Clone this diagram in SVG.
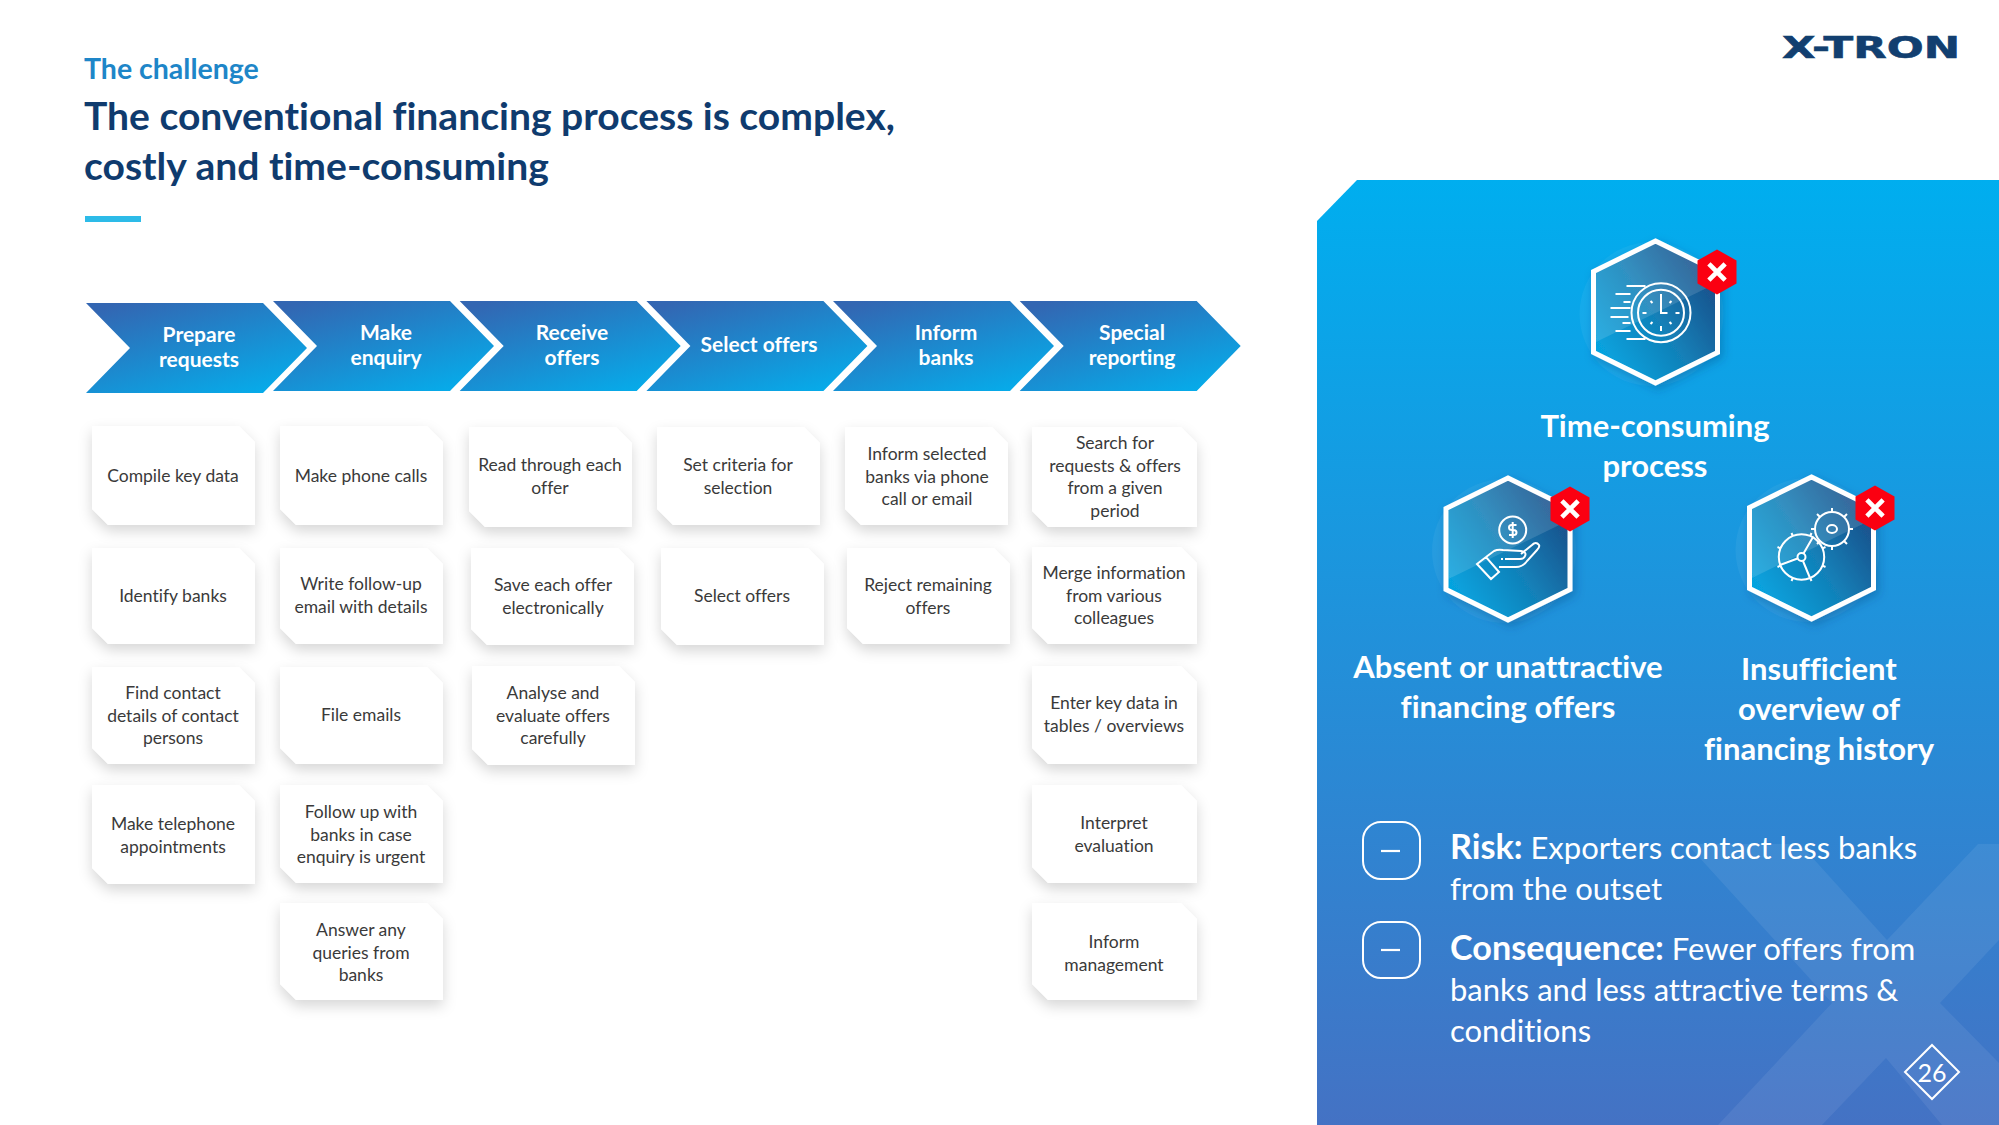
<svg xmlns="http://www.w3.org/2000/svg" width="1999" height="1125" viewBox="0 0 1999 1125">
<defs>
<linearGradient id="chev" x1="0.15" y1="0" x2="0.85" y2="1"><stop offset="0" stop-color="#3366b2"/><stop offset="1" stop-color="#05adeb"/></linearGradient>
<linearGradient id="panel" x1="0" y1="0" x2="0" y2="1"><stop offset="0" stop-color="#00aeef"/><stop offset="1" stop-color="#4472c4"/></linearGradient>
<linearGradient id="hexg" x1="0.1" y1="0.9" x2="0.9" y2="0.3"><stop offset="0" stop-color="#05a6e2"/><stop offset="0.55" stop-color="#1280b8"/><stop offset="1" stop-color="#1a5690"/></linearGradient>
<filter id="sh" x="-20%" y="-20%" width="140%" height="150%"><feDropShadow dx="0" dy="6" stdDeviation="7" flood-color="#000" flood-opacity="0.16"/></filter>
<filter id="hs" x="-20%" y="-20%" width="140%" height="140%"><feDropShadow dx="3" dy="4" stdDeviation="5" flood-color="#0a3a70" flood-opacity="0.3"/></filter>
<path id="hex" d="M0,-71 L62,-40.500 L62,40.500 L0,71 L-62,40.500 L-62,-40.500Z"/>
<path id="badge" d="M0,-22.500 L19.500,-11.500 L19.500,11.500 L0,22.500 L-19.500,11.500 L-19.500,-11.500Z"/>
<g id="bad"><use href="#badge" fill="#fb0011"/><path d="M-6.500,-6.500L6.500,6.500M6.500,-6.500L-6.500,6.500" stroke="#fff" stroke-width="4.600" stroke-linecap="square" fill="none"/></g>
<g id="hx"><circle cx="-4" cy="2" r="72" fill="#fff" opacity="0.05"/><use href="#hex" fill="url(#hexg)" stroke="#fff" stroke-width="5" filter="url(#hs)"/><path d="M0,-68.500 L59.500,-39 L59.500,-28 L-59.500,30 L-59.500,-39Z" fill="#fff" opacity="0.13"/></g>
</defs>
<style>
text{font-family:Lato,"Liberation Sans",sans-serif;font-variant-ligatures:none}
.c{font-size:17.5px;fill:#3a3a3a;text-anchor:middle}
.h{font-size:21px;font-weight:700;fill:#fff;text-anchor:middle}
.p{font-size:31px;font-weight:700;fill:#fff;text-anchor:middle}
.b{font-size:31px;fill:#fff}
.bb{font-size:34.200px;font-weight:700}
.card{fill:#fff;filter:url(#sh)}
.ic{fill:none;stroke:#fff;stroke-width:2}
.t{font-size:39.050px;font-weight:700;fill:#0f3b6e}
.rb{fill:none;stroke:#fff;stroke-width:2}
</style>
<rect width="1999" height="1125" fill="#fff"/>
<g id="header">
<text x="84" y="79" font-size="28.500" font-weight="700" fill="#1e86c8">The challenge</text>
<text class="t" x="84" y="130">The conventional financing process is complex,</text>
<text class="t" x="84" y="180">costly and time-consuming</text>
<rect x="85" y="216" width="56" height="6" fill="#2dbbe8"/>
</g>
<g id="logo"><text x="1782" y="58" font-size="30" font-weight="700" fill="#123f70" stroke="#123f70" stroke-width="0.600" textLength="178" lengthAdjust="spacingAndGlyphs" style="font-family:'DejaVu Sans',sans-serif">X-TRON</text></g>
<g id="panel-bg">
<path d="M1317,221 L1357,180 L1999,180 L1999,1125 L1317,1125Z" fill="url(#panel)"/>
<path d="M1687,844 H1800 L1887,940 L1978,844 H1999 V940 L1940,1003 L1999,1063 V1125 H1942 L1886,1058 L1822,1125 H1718 L1832,1003Z" fill="#fff" opacity="0.07"/>
</g>
<g id="chevrons">
<g id="ch1"><path d="M86,303 H263 L307,348 L263,393 H86 L130,348Z" fill="url(#chev)"/><text class="h"><tspan x="199" y="342">Prepare</tspan><tspan x="199" y="367">requests</tspan></text></g>
<g id="ch2"><path d="M273,301 H450 L494,346 L450,391 H273 L317,346Z" fill="url(#chev)"/><text class="h"><tspan x="386" y="340">Make</tspan><tspan x="386" y="365">enquiry</tspan></text></g>
<g id="ch3"><path d="M459.700,301 H636.700 L680.700,346 L636.700,391 H459.700 L503.700,346Z" fill="url(#chev)"/><text class="h"><tspan x="572" y="340">Receive</tspan><tspan x="572" y="365">offers</tspan></text></g>
<g id="ch4"><path d="M646.400,301 H823.400 L867.400,346 L823.400,391 H646.400 L690.400,346Z" fill="url(#chev)"/><text class="h" x="759" y="352">Select offers</text></g>
<g id="ch5"><path d="M833,301 H1010 L1054,346 L1010,391 H833 L877,346Z" fill="url(#chev)"/><text class="h"><tspan x="946" y="340">Inform</tspan><tspan x="946" y="365">banks</tspan></text></g>
<g id="ch6"><path d="M1019.700,301 H1196.700 L1240.700,346 L1196.700,391 H1019.700 L1063.700,346Z" fill="url(#chev)"/><text class="h"><tspan x="1132" y="340">Special</tspan><tspan x="1132" y="365">reporting</tspan></text></g>
</g>
<g id="cards">
<g id="c11"><path class="card" d="M92,426 H239 L255,442 V525 H108 L92,509Z"/><text class="c" x="173" y="482">Compile key data</text></g>
<g id="c12"><path class="card" d="M92,548 H239 L255,564 V644 H108 L92,628Z"/><text class="c" x="173" y="602">Identify banks</text></g>
<g id="c13"><path class="card" d="M92,667 H239 L255,683 V764 H108 L92,748Z"/><text class="c"><tspan x="173" y="699">Find contact</tspan><tspan x="173" y="721.500">details of contact</tspan><tspan x="173" y="744">persons</tspan></text></g>
<g id="c14"><path class="card" d="M92,785 H239 L255,801 V884 H108 L92,868Z"/><text class="c"><tspan x="173" y="830">Make telephone</tspan><tspan x="173" y="852.500">appointments</tspan></text></g>
<g id="c21"><path class="card" d="M280,426 H427 L443,442 V525 H296 L280,509Z"/><text class="c" x="361" y="482">Make phone calls</text></g>
<g id="c22"><path class="card" d="M280,548 H427 L443,564 V644 H296 L280,628Z"/><text class="c"><tspan x="361" y="590">Write follow-up</tspan><tspan x="361" y="612.500">email with details</tspan></text></g>
<g id="c23"><path class="card" d="M280,667 H427 L443,683 V764 H296 L280,748Z"/><text class="c" x="361" y="721">File emails</text></g>
<g id="c24"><path class="card" d="M280,785 H427 L443,801 V883 H296 L280,867Z"/><text class="c"><tspan x="361" y="818">Follow up with</tspan><tspan x="361" y="840.500">banks in case</tspan><tspan x="361" y="863">enquiry is urgent</tspan></text></g>
<g id="c25"><path class="card" d="M280,903 H427 L443,919 V1000 H296 L280,984Z"/><text class="c"><tspan x="361" y="936">Answer any</tspan><tspan x="361" y="958.500">queries from</tspan><tspan x="361" y="981">banks</tspan></text></g>
<g id="c31"><path class="card" d="M469,427 H616 L632,443 V527 H485 L469,511Z"/><text class="c"><tspan x="550" y="471">Read through each</tspan><tspan x="550" y="493.500">offer</tspan></text></g>
<g id="c32"><path class="card" d="M471,548 H618 L634,564 V645 H487 L471,629Z"/><text class="c"><tspan x="553" y="591">Save each offer</tspan><tspan x="553" y="613.500">electronically</tspan></text></g>
<g id="c33"><path class="card" d="M472,666 H619 L635,682 V765 H488 L472,749Z"/><text class="c"><tspan x="553" y="699">Analyse and</tspan><tspan x="553" y="721.500">evaluate offers</tspan><tspan x="553" y="744">carefully</tspan></text></g>
<g id="c41"><path class="card" d="M657,427 H804 L820,443 V525 H673 L657,509Z"/><text class="c"><tspan x="738" y="471">Set criteria for</tspan><tspan x="738" y="493.500">selection</tspan></text></g>
<g id="c42"><path class="card" d="M661,548 H808 L824,564 V645 H677 L661,629Z"/><text class="c" x="742" y="602">Select offers</text></g>
<g id="c51"><path class="card" d="M845,427 H992 L1008,443 V525 H861 L845,509Z"/><text class="c"><tspan x="927" y="460">Inform selected</tspan><tspan x="927" y="482.500">banks via phone</tspan><tspan x="927" y="505">call or email</tspan></text></g>
<g id="c52"><path class="card" d="M847,548 H994 L1010,564 V644 H863 L847,628Z"/><text class="c"><tspan x="928" y="591">Reject remaining</tspan><tspan x="928" y="613.500">offers</tspan></text></g>
<g id="c61"><path class="card" d="M1032,427 H1181 L1197,443 V527 H1048 L1032,511Z"/><text class="c"><tspan x="1115" y="449">Search for</tspan><tspan x="1115" y="471.500">requests &amp; offers</tspan><tspan x="1115" y="494">from a given</tspan><tspan x="1115" y="516.500">period</tspan></text></g>
<g id="c62"><path class="card" d="M1032,547 H1181 L1197,563 V644 H1048 L1032,628Z"/><text class="c"><tspan x="1114" y="579">Merge information</tspan><tspan x="1114" y="601.500">from various</tspan><tspan x="1114" y="624">colleagues</tspan></text></g>
<g id="c63"><path class="card" d="M1032,666 H1181 L1197,682 V764 H1048 L1032,748Z"/><text class="c"><tspan x="1114" y="709">Enter key data in</tspan><tspan x="1114" y="731.500">tables / overviews</tspan></text></g>
<g id="c64"><path class="card" d="M1032,785 H1181 L1197,801 V883 H1048 L1032,867Z"/><text class="c"><tspan x="1114" y="829">Interpret</tspan><tspan x="1114" y="851.500">evaluation</tspan></text></g>
<g id="c65"><path class="card" d="M1032,903 H1181 L1197,919 V1000 H1048 L1032,984Z"/><text class="c"><tspan x="1114" y="948">Inform</tspan><tspan x="1114" y="970.500">management</tspan></text></g>
</g>
<g id="node-time">
<g transform="translate(1655.500,312)"><use href="#hx"/>
<g class="ic"><circle cx="5.500" cy="0.700" r="29.500"/><circle cx="5.500" cy="0.700" r="23"/><path d="M5.500,-18V1H12M5.500,14V19M-13,1H-9M24,1H20M-5,-11L-3,-9M16,-11L14,-9M-5,12L-3,10M16,12L14,10"/><path d="M-29,-26H-10M-40,-18H-25M-32,-10H-25M-45,-4H-25M-45,5H-27M-33,11H-25M-40,19H-25M-29,27H-10"/></g></g>
<use href="#bad" x="1717" y="272"/>
<text class="p"><tspan x="1655" y="437">Time-consuming</tspan><tspan x="1655" y="477">process</tspan></text>
</g>
<g id="node-offers">
<g transform="translate(1508,549)"><use href="#hx"/>
<g class="ic"><circle cx="4.700" cy="-19" r="13.500"/><path d="M8.500,-24H3.500Q1,-24 1,-21.500T4,-19H5.500Q8.500,-19 8.500,-16.500T5.500,-14H1M4.700,-27V-11"/><path d="M-22,8 L-14,2 Q-10,0 -5,1 L13,2 Q19,3 17,7 Q16,10 12,10 H-3 M13,5 L24,-4 Q28,-8 31,-4 Q32,-2 29,1 L19,12 Q15,18 8,18 H-9 M-31,15 L-22,8 L-9,23 L-17,30Z M-7,10H-5"/></g></g>
<use href="#bad" x="1570" y="509"/>
<text class="p"><tspan x="1508" y="678">Absent or unattractive</tspan><tspan x="1508" y="718">financing offers</tspan></text>
</g>
<g id="node-history">
<g transform="translate(1811.500,548)"><use href="#hx"/>
<g class="ic"><circle cx="20.500" cy="-19" r="17"/><ellipse cx="20.500" cy="-19" rx="5" ry="4"/><path d="M20.500,-36V-40M20.500,-2V2M3.500,-19H-.5M37.500,-19H41.500M8.500,-31L5.500,-34M32.500,-31L35.500,-34M8.500,-7L5.500,-4M32.500,-7L35.500,-4"/><circle cx="-10" cy="9" r="22.700"/><circle cx="-10" cy="9" r="4"/><path d="M-8,5.500L1.800,-11.500M-14,10.500L-31.500,17M-8.500,13L-1.500,30"/><path d="M11,17.700L14,19M11,.3L14,-1M-31,17.700L-34,19M-31,.3L-34,-1M-1.300,30L0,33M-1.300,-12L0,-15M-18.700,30L-20,33M-18.700,-12L-20,-15"/></g></g>
<use href="#bad" x="1875" y="508"/>
<text class="p"><tspan x="1819" y="680">Insufficient</tspan><tspan x="1819" y="720">overview of</tspan><tspan x="1819" y="760">financing history</tspan></text>
</g>
<g id="risk">
<rect class="rb" x="1363" y="822" width="57" height="57" rx="18"/><path d="M1381,851H1400" stroke="#fff" stroke-width="2.200"/>
<text class="b"><tspan x="1450" y="859"><tspan class="bb">Risk:</tspan> Exporters contact less banks</tspan><tspan x="1450" y="900">from the outset</tspan></text>
</g>
<g id="consequence">
<rect class="rb" x="1363" y="922" width="57" height="56" rx="18"/><path d="M1381,950H1400" stroke="#fff" stroke-width="2.200"/>
<text class="b"><tspan x="1450" y="960"><tspan class="bb">Consequence:</tspan> Fewer offers from</tspan><tspan x="1450" y="1001">banks and less attractive terms &amp;</tspan><tspan x="1450" y="1042">conditions</tspan></text>
</g>
<g id="page"><path d="M1932,1045 L1959,1072 L1932,1099 L1905,1072Z" fill="none" stroke="#fff" stroke-width="2"/><text x="1932" y="1082" font-size="25" fill="#fff" text-anchor="middle">26</text></g>
</svg>
